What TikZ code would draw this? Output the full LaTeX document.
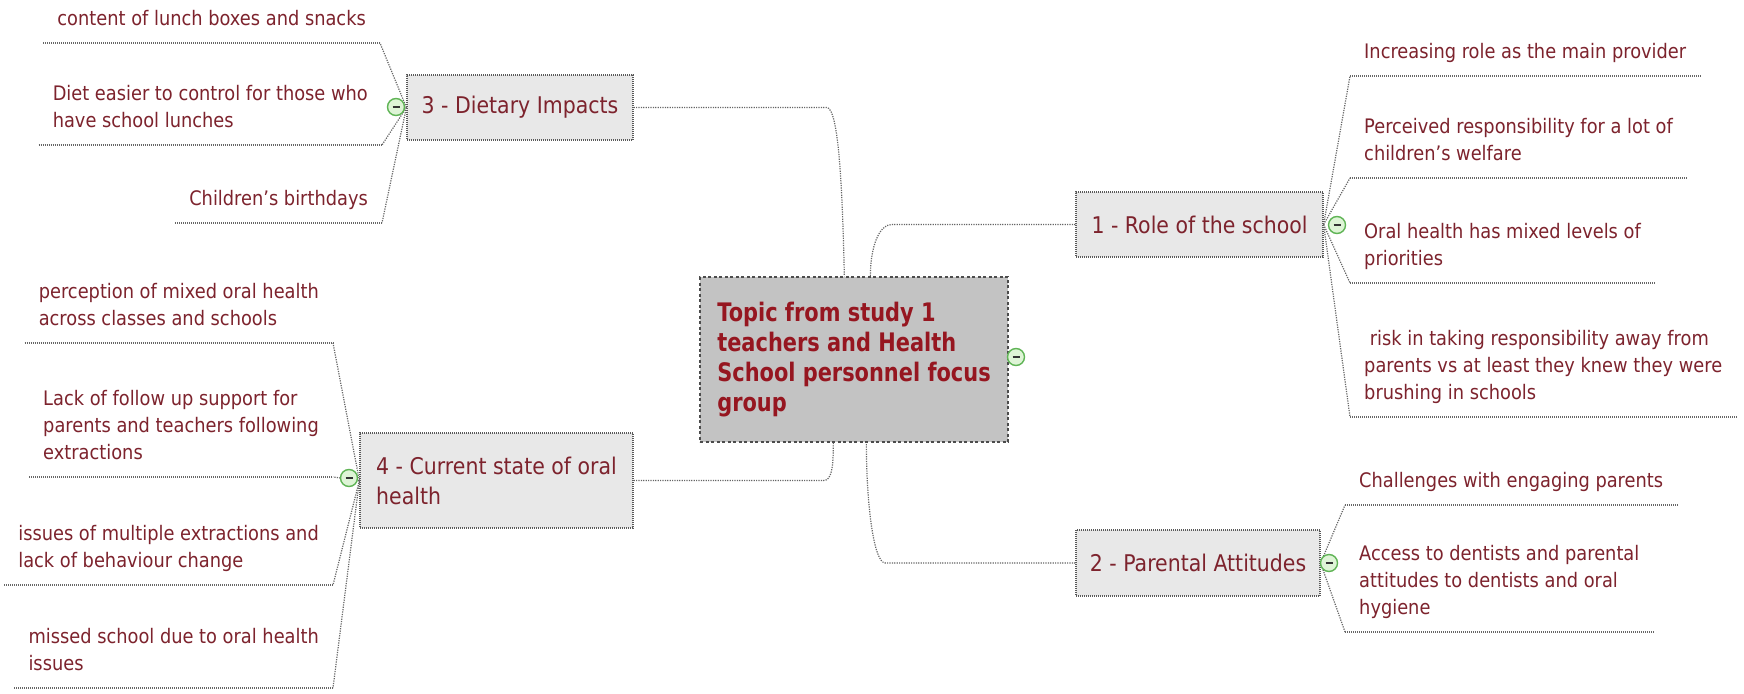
\documentclass[tikz,border=0pt]{standalone}
\usepackage{fontspec}
\setmainfont{DejaVu Sans}[FakeStretch=0.89]
\newfontfamily\hubfont{DejaVu Sans}[FakeStretch=0.82]
\usetikzlibrary{calc}
\definecolor{inkred}{RGB}{125,35,45}
\definecolor{hubred}{RGB}{150,22,32}
\definecolor{topicfill}{RGB}{232,232,232}
\definecolor{hubfill}{RGB}{195,195,195}
\definecolor{togglefill}{RGB}{222,244,214}
\definecolor{togglering}{RGB}{95,180,85}

\begin{document}
\begin{tikzpicture}[x=1pt,y=-1pt,
  hub/.style={draw=black!70, line width=1.3pt, dash pattern=on 3pt off 2.5pt,
    fill=hubfill, text=hubred, align=left,
    font=\hubfont\bfseries\fontsize{25.5}{30}\selectfont,
    minimum width=308pt, minimum height=165pt, inner sep=0pt},
  topic/.style={draw=black!65, line width=1.2pt, dash pattern=on 1pt off 1pt,
    fill=topicfill, text=inkred, align=left,
    font=\fontsize{23}{30}\selectfont, inner sep=0pt},
  leaf/.style={text=inkred, align=left, font=\fontsize{20}{27}\selectfont,
    inner xsep=14pt, inner ysep=0pt},
  uline/.style={draw=black!60, line width=1.5pt, dash pattern=on 1pt off 1pt},
  link/.style={draw=black!60, line width=1.2pt, dash pattern=on 1.2pt off 1.2pt},
  toggle/.style={circle, draw=togglering, fill=togglefill, line width=1.4pt,
    minimum size=17pt, inner sep=0pt,
    path picture={\draw[black!80, line width=1.6pt]
      ([xshift=-3.5pt]path picture bounding box.center) --
      ([xshift=3.5pt]path picture bounding box.center);}},
]
\newcommand{\gap}{\rule[-17pt]{0pt}{17pt}}
\fill[white] (0,0) rectangle (1744,693);
\useasboundingbox (0,0) rectangle (1744,693);

% central topic
\node[hub] (C) at (854,359.5) {Topic from study 1\\teachers and Health\\School personnel focus\\group};

% main topics
\node[topic, minimum width=247pt, minimum height=65pt] (n1) at (1199.5,224.5) {1 - Role of the school};
\node[topic, minimum width=244pt, minimum height=66pt] (n2) at (1198,563) {2 - Parental Attitudes};
\node[topic, minimum width=226pt, minimum height=65pt] (n3) at (520,107.5) {3 - Dietary Impacts};
\node[topic, minimum width=273pt, minimum height=95pt] (n4) at (496.5,480.5) {4 - Current state of oral\\health};

% central topic to main topics
\draw[link] (n3.east) -- ++(193,0) .. controls +(12,0) and +(-2,-90) .. ($(C.north west)+(145,0)$);
\draw[link] (n1.west) -- ++(-184,0) .. controls +(-12,0) and +(0,-30) .. ($(C.north west)+(171,0)$);
\draw[link] (n2.west) -- ++(-190,0) .. controls +(-12,0) and +(0,60) .. ($(C.south west)+(167,0)$);
\draw[link] (n4.east) -- ++(190,0) .. controls +(8,0) and +(0,25) .. ($(C.south west)+(134,0)$);

% subtopics of 1
\node[leaf, anchor=south west] (r1) at (1350,76) {Increasing role as the main provider\gap};
\node[leaf, anchor=south west] (r2) at (1350,178) {Perceived responsibility for a lot of\\children's welfare\gap};
\node[leaf, anchor=south west] (r3) at (1350,283) {Oral health has mixed levels of\\priorities\gap};
\node[leaf, anchor=south west] (r4) at (1350,417) {\ risk in taking responsibility away from\\parents vs at least they knew they were\\brushing in schools\gap};
% subtopics of 2
\node[leaf, anchor=south west] (r5) at (1345,505) {Challenges with engaging parents\gap};
\node[leaf, anchor=south west] (r6) at (1345,632) {Access to dentists and parental\\attitudes to dentists and oral\\hygiene\gap};
% subtopics of 3
\node[leaf, anchor=south east] (l1) at (380,43) {content of lunch boxes and snacks\gap};
\node[leaf, anchor=south east] (l2) at (382,145) {Diet easier to control for those who\\have school lunches\gap};
\node[leaf, anchor=south east] (l3) at (382,223) {Children's birthdays\gap};
% subtopics of 4
\node[leaf, anchor=south east] (l4) at (333,343) {perception of mixed oral health\\across classes and schools\gap};
\node[leaf, anchor=south east] (l5) at (333,477) {Lack of follow up support for\\parents and teachers following\\extractions\gap};
\node[leaf, anchor=south east] (l6) at (333,585) {issues of multiple extractions and\\lack of behaviour change\gap};
\node[leaf, anchor=south east] (l7) at (333,688) {missed school due to oral health\\issues\gap};

% underlines
\foreach \n in {r1,r2,r3,r4,r5,r6,l1,l2,l3,l4,l5,l6,l7}
  \draw[uline] (\n.south west) -- (\n.south east);

% subtopic connectors
\foreach \n in {r1,r2,r3,r4} \draw[link] (n1.east) -- (\n.south west);
\foreach \n in {r5,r6} \draw[link] (n2.east) -- (\n.south west);
\foreach \n in {l1,l2,l3} \draw[link] (n3.west) -- (\n.south east);
\foreach \n in {l4,l5,l6,l7} \draw[link] (n4.west) -- (\n.south east);

% collapse toggles
\node[toggle] (tC) at (1016,357) {};
\node[toggle] (t1) at (1337,225) {};
\node[toggle] (t2) at (1329,563) {};
\node[toggle] (t3) at (396,107) {};
\node[toggle] (t4) at (349,478) {};
\end{tikzpicture}
\end{document}
